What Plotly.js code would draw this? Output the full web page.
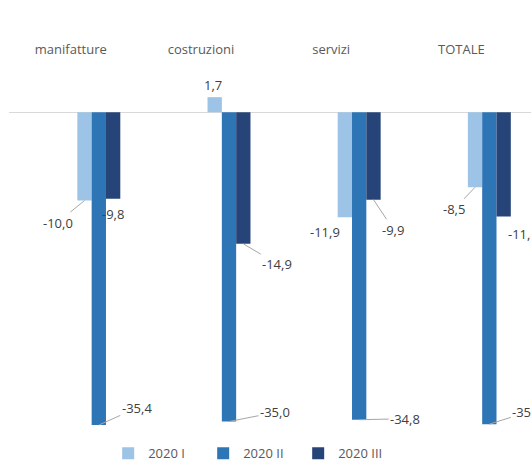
<!DOCTYPE html>
<html><head><meta charset="utf-8">
<script src="https://cdn.plot.ly/plotly-3.0.1.min.js"></script>
<style>html,body{margin:0;padding:0;background:#fff}</style>
</head><body>
<div id="chart" style="width:531px;height:461px"></div>
<script>
// Variazione congiunturale per settore, trimestri 2020 (%)
const categories = ['manifatture', 'costruzioni', 'servizi', 'TOTALE'];
const seriesNames = ['2020 I', '2020 II', '2020 III'];
const values2020I = [-10.0, 1.7, -11.9, -8.5];
const values2020II = [-35.4, -35.0, -34.8, -35.3];
const values2020III = [-9.8, -14.9, -9.9, -11.8];
const seriesValues = [values2020I, values2020II, values2020III];

const seriesColors = ['#9DC3E6', '#2E75B6', '#264478'];
const BARGAP = 0.67;
const barW = (1 - BARGAP) / seriesNames.length;

// data label placement relative to bar end, in px: [dx, dy, leader line]
const labelPlacement = [
  [[-27, 22, true], [-2, -12, false], [-20, 15, false], [-21, 22, true]],
  [[38, -17, true], [46, -9, true], [46, -1, true], [38, -12, true]],
  [[0, 15, false], [34, 20, true], [20, 30, true], [19, 18, false]]
];

const fmt = v => v.toFixed(1).replace('.', ',');

const traces = seriesNames.map((name, s) => ({
  type: 'bar',
  name: name,
  x: categories,
  y: seriesValues[s],
  marker: { color: seriesColors[s], line: { width: 0 } },
  hoverinfo: 'x+y+name'
}));

const annotations = [];
seriesValues.forEach((vals, s) => {
  vals.forEach((v, i) => {
    const [dx, dy, leader] = labelPlacement[s][i];
    const a = {
      x: i + (s - 1) * barW,
      y: v,
      xref: 'x', yref: 'y',
      text: fmt(v),
      font: { family: 'Open Sans', size: 13, color: '#404040' }
    };
    if (leader) {
      Object.assign(a, {
        showarrow: true, arrowhead: 0, arrowwidth: 1, arrowcolor: '#A6A6A6',
        standoff: 0, ax: dx, ay: dy, axref: 'pixel', ayref: 'pixel'
      });
    } else {
      Object.assign(a, { showarrow: false, xshift: dx, yshift: -dy });
    }
    annotations.push(a);
  });
});

const layout = {
  width: 531, height: 461,
  margin: { l: 9, r: 0, t: 68, b: 13, autoexpand: false },
  paper_bgcolor: '#ffffff', plot_bgcolor: '#ffffff',
  barmode: 'group', bargap: BARGAP, bargroupgap: 0,
  showlegend: true,
  legend: {
    orientation: 'h', x: 0.19, xanchor: 'left', y: -0.014, yanchor: 'middle',
    font: { family: 'Open Sans', size: 13, color: '#595959' },
    entrywidth: 50, traceorder: 'normal'
  },
  xaxis: {
    type: 'category', range: [-0.69, 3.32], side: 'top',
    showgrid: false, showline: false, zeroline: false, ticks: '',
    tickfont: { family: 'Open Sans', size: 13, color: '#595959' },
    ticklabelshift: -28, ticklabelstandoff: 10, fixedrange: true
  },
  yaxis: {
    range: [-38, 5], showgrid: false, showline: false, showticklabels: false,
    zeroline: true, zerolinecolor: '#D9D9D9', zerolinewidth: 1, ticks: '', fixedrange: true
  },
  annotations: annotations
};

Plotly.newPlot('chart', traces, layout, { displayModeBar: false, staticPlot: true });
</script>
</body></html>
